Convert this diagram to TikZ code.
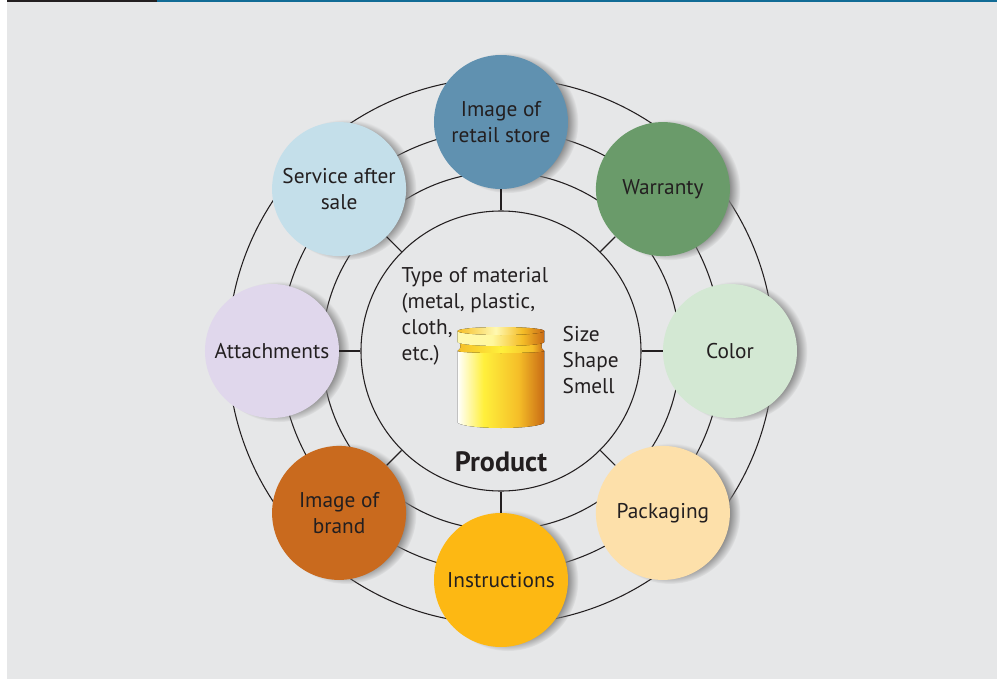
\documentclass[tikz,border=0pt]{standalone}
\usepackage{fontspec}
\setmainfont{PT Sans}
\usepackage{tikz}
\usetikzlibrary{shadows}
\usetikzlibrary{fadings}

\definecolor{paper}{RGB}{230,231,232}
\definecolor{inkgray}{RGB}{35,31,32}
\definecolor{barblue}{RGB}{18,108,150}
\definecolor{storeblue}{RGB}{96,145,176}
\definecolor{warrantygreen}{RGB}{106,155,106}
\definecolor{colorgreen}{RGB}{211,232,211}
\definecolor{packpeach}{RGB}{253,224,170}
\definecolor{instramber}{RGB}{253,184,19}
\definecolor{brandorange}{RGB}{201,106,30}
\definecolor{attachlilac}{RGB}{224,215,236}
\definecolor{serviceblue}{RGB}{196,223,234}
\definecolor{canyellow}{RGB}{255,240,60}
\definecolor{cangold}{RGB}{245,190,40}
\definecolor{canorange}{RGB}{200,105,20}

% shadings for the can (the path covers 25bp to 75bp)
\pgfdeclarehorizontalshading{canbody}{100bp}{color(0bp)=(white); color(25bp)=(white); color(40bp)=(canyellow); color(60bp)=(cangold); color(75bp)=(canorange); color(100bp)=(canorange)}
\pgfdeclarehorizontalshading{canlid}{100bp}{color(0bp)=(white!60!canyellow); color(25bp)=(white!60!canyellow); color(45bp)=(canyellow!50!white); color(62bp)=(cangold); color(75bp)=(canorange); color(100bp)=(canorange)}
\pgfdeclarehorizontalshading{canneck}{100bp}{color(0bp)=(cangold); color(25bp)=(cangold); color(50bp)=(canyellow); color(68bp)=(cangold); color(75bp)=(canorange); color(100bp)=(canorange)}
\pgfdeclarehorizontalshading{cantop}{100bp}{color(0bp)=(cangold); color(25bp)=(cangold); color(47bp)=(canyellow!40!white); color(62bp)=(cangold); color(75bp)=(canorange); color(100bp)=(canorange)}

\begin{document}
\begin{tikzpicture}[x=0.75pt, y=0.75pt,
		ring/.style={line width=0.8pt, inkgray},
		bubble/.style={circle, minimum size=100.5pt, inner sep=0pt, align=center, text=inkgray,
			font=\fontsize{16}{19.5}\selectfont,
			circular drop shadow={shadow xshift=5pt, shadow yshift=-0.5pt, shadow scale=1.05, opacity=0.85}},
		label/.style={align=left, text=inkgray, font=\fontsize{16}{19.5}\selectfont}
	]

	\def\rOuter{273} % outer ring
	\def\rMid{221} % middle ring
	\def\rIn{179} % inner ring
	\def\rBub{229} % distance of the bubbles from the centre

	% the page
	\useasboundingbox (-501,-328) rectangle (496,351);
	\fill[white] (-501,-328) rectangle (-494,351);
	\fill[paper] (-494,-328) rectangle (496,349);
	\fill[inkgray] (-494,349) rectangle (-344,351);
	\fill[barblue] (-344,349) rectangle (496,351);

	% the rings
	\draw[ring] (0,0) circle (\rOuter);
	\draw[ring] (0,0) circle (\rMid);
	\draw[ring] (0,0) circle (\rIn);
	\node[circle, draw=inkgray, line width=0.8pt, minimum size=210pt, inner sep=0pt] (core) at (0,0) {};

	% the bubbles round the product
	\node[bubble, fill=storeblue] (store) at (90:\rBub) {Image of\\retail store};
	\node[bubble, fill=warrantygreen] (warranty) at (45:\rBub) {Warranty};
	\node[bubble, fill=colorgreen] (color) at (0:\rBub) {Color};
	\node[bubble, fill=packpeach] (packaging) at (-45:\rBub) {Packaging};
	\node[bubble, fill=instramber] (instructions) at (-90:\rBub) {Instructions};
	\node[bubble, fill=brandorange] (brand) at (-135:\rBub) {Image of\\brand};
	\node[bubble, fill=attachlilac] (attach) at (180:\rBub) {Attachments};
	\node[bubble, fill=serviceblue] (service) at (135:\rBub) {Service after\\sale};

	% spokes from the core to each bubble
	\foreach \b in {store, warranty, color, packaging, instructions, brand, attach, service}
		\draw[ring] (core) -- (\b);

	% the can
	\fill[shading=canbody] (-43.5,0) -- (-43.5,-71) arc (180:360:43.5 and 6) -- (43.5,0) -- cycle; % body
	\fill[shading=canneck] (-43.5,0) .. controls (-40,3) .. (-41,8) -- (41,8) .. controls (40,3) .. (43.5,0) arc (0:-180:43.5 and 2) -- cycle; % neck
	\fill[shading=canlid] (-43.5,20) -- (-43.5,9) arc (180:360:43.5 and 4) -- (43.5,20) -- cycle; % lid side
	\fill[shading=cantop] (0,20) ellipse (43.5 and 4); % lid top

	% texts in the core
	\node[label, anchor=north west] (material) at (-104,88) {Type of material\\(metal, plastic,\\cloth,\\etc.)};
	\node[label, anchor=north west] (senses) at (57,29) {Size\\Shape\\Smell};
	\node[text=inkgray, font=\fontsize{21}{23}\bfseries] (product) at (0,-111) {Product};

\end{tikzpicture}
\end{document}
